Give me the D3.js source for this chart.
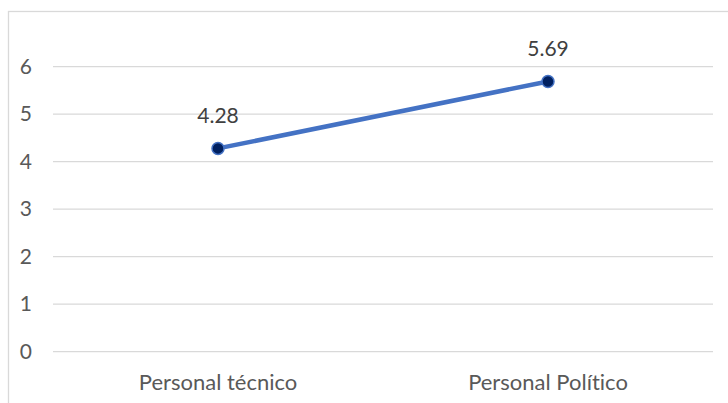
<!DOCTYPE html>
<html>
<head>
<meta charset="utf-8">
<script src="https://cdn.jsdelivr.net/npm/d3@7"></script>
<style>
  body { margin: 0; background: #fff; }
  svg text { font-family: Lato, "Open Sans", sans-serif; font-variant-ligatures: none; }
</style>
</head>
<body>
<svg width="728" height="403"></svg>
<script>
const width = 728, height = 403;
const svg = d3.select("svg");

// Chart data
const categories = ["Personal técnico", "Personal Político"];
const values = [4.28, 5.69];
const yTicks = [0, 1, 2, 3, 4, 5, 6];

// Chart frame (cropped on the right and bottom)
svg.append("rect").attr("x", 8.5).attr("y", 11.5).attr("width", 740).attr("height", 420)
    .attr("fill", "#fff").attr("stroke", "#d9d9d9").attr("stroke-width", 1.3);

const xScale = d3.scaleBand().domain(categories).range([53, 713]);
const yScale = d3.scaleLinear().domain([0, 6]).range([351.7, 66.7]);

// Gridlines
svg.append("g").selectAll("line").data(yTicks).enter().append("line")
    .attr("x1", 53).attr("x2", 713)
    .attr("y1", d => yScale(d)).attr("y2", d => yScale(d))
    .attr("stroke", "#d9d9d9").attr("stroke-width", 1.3);

// Y axis labels
const yAxis = svg.append("g").attr("transform", "translate(32,0)")
    .call(d3.axisLeft(yScale).tickValues(yTicks).tickSize(0).tickPadding(0).tickFormat(d3.format("d")));
yAxis.select(".domain").remove();
yAxis.selectAll("text").style("font-size", "21px").style("fill", "#595959")
    .style("font-family", "Lato, 'Open Sans', sans-serif");

// X axis labels
const xAxis = svg.append("g").attr("transform", "translate(0,390)")
    .call(d3.axisBottom(xScale).tickSize(0).tickPadding(0));
xAxis.select(".domain").remove();
xAxis.selectAll("text").attr("dy", "0").style("font-size", "22px").style("fill", "#595959")
    .style("font-family", "Lato, 'Open Sans', sans-serif");

const points = categories.map((c, i) => ({ cat: c, value: values[i] }));
const cx = d => xScale(d.cat) + xScale.bandwidth() / 2;

// Line
svg.append("path").datum(points)
    .attr("fill", "none").attr("stroke", "#4472c4").attr("stroke-width", 4.5)
    .attr("stroke-linecap", "round")
    .attr("d", d3.line().x(cx).y(d => yScale(d.value)));

// Markers
svg.selectAll(".dot").data(points).enter().append("circle")
    .attr("class", "dot")
    .attr("cx", cx).attr("cy", d => yScale(d.value)).attr("r", 6)
    .attr("fill", "#002060").attr("stroke", "#4472c4").attr("stroke-width", 1.5);

// Data labels
svg.selectAll(".lbl").data(points).enter().append("text")
    .attr("class", "lbl")
    .attr("x", cx).attr("y", d => yScale(d.value) - 25)
    .attr("text-anchor", "middle")
    .style("font-size", "21px").style("fill", "#404040")
    .text(d => d.value.toFixed(2));
</script>
</body>
</html>
